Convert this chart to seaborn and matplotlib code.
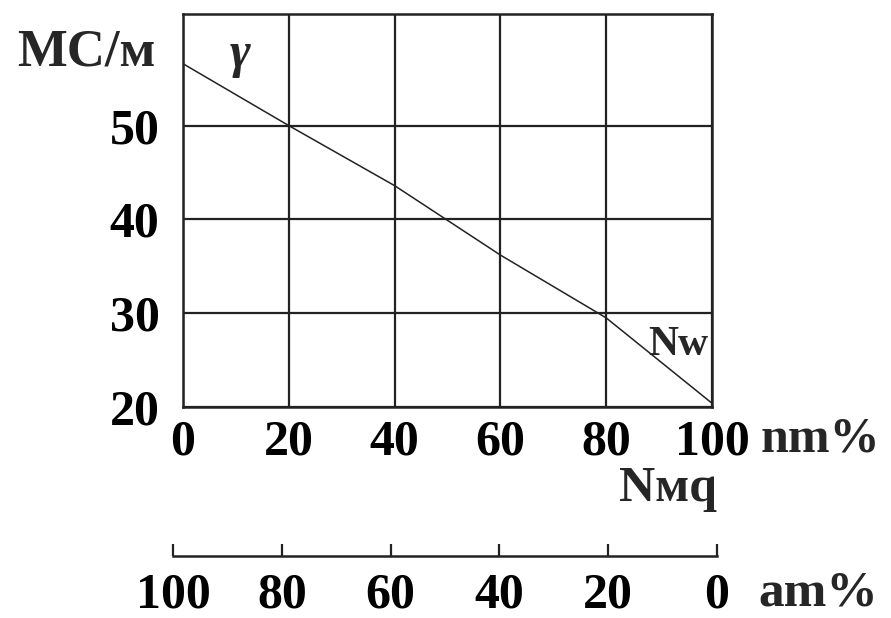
import matplotlib
matplotlib.use("Agg")
import matplotlib.pyplot as plt
import seaborn as sns
import pandas as pd

# data
nm_pct = [0, 20, 40, 60, 80, 100]
ms_per_m = [56.6, 50.0, 43.6, 36.2, 29.5, 20.4]
x_ticks = [0, 20, 40, 60, 80, 100]
y_ticks = [20, 30, 40, 50]
am_ticks = [100, 80, 60, 40, 20, 0]

sns.set_theme(style="white")
plt.rcParams['font.family'] = ['Liberation Serif', 'DejaVu Serif']
plt.rcParams['font.weight'] = 'bold'

FS = 36
fig = plt.figure(figsize=(8.91, 6.18), dpi=100)
W, H = 891, 618
ax = fig.add_axes([183 / W, 1 - 407 / H, (712 - 183) / W, (407 - 14) / H])

df = pd.DataFrame({"x": nm_pct, "y": ms_per_m})
sns.lineplot(data=df, x="x", y="y", ax=ax, color="#222222", linewidth=1.1)

ax.set_xlim(0, 100)
ax.set_ylim(20, 61.9)
ax.set_xticks(x_ticks)
ax.set_yticks(y_ticks)
ax.set_xticklabels([str(v) for v in x_ticks], fontsize=FS, fontweight='bold')
ax.set_yticklabels([str(v) for v in y_ticks], fontsize=FS, fontweight='bold')
ax.grid(True, color="#222222", linewidth=1.6)
ax.tick_params(axis='both', length=0, colors='black')
ax.tick_params(axis='x', pad=9)
ax.tick_params(axis='y', pad=17)
for s in ax.spines.values():
    s.set_color("#222222")
    s.set_linewidth(1.8)
ax.set_xlabel("")
ax.set_ylabel("")

fig.text(86 / W, 1 - 52 / H, "МС/м", fontsize=38, fontweight='bold', ha='center', va='center')
fig.text(240 / W, 1 - 55 / H, "γ", fontsize=FS, fontstyle='italic', ha='center', va='center')
fig.text(678 / W, 1 - 345 / H, "Nw", fontsize=30, fontweight='bold', ha='center', va='center')
fig.text(820 / W, 1 - 440 / H, "nm%", fontsize=36, fontweight='bold', ha='center', va='center')
fig.text(668 / W, 1 - 489 / H, "Nмq", fontsize=FS, fontweight='bold', ha='center', va='center')
fig.text(818 / W, 1 - 594 / H, "am%", fontsize=37, fontweight='bold', ha='center', va='center')

# secondary scale
ax2 = fig.add_axes([173 / W, 1 - 556 / H, (717 - 173) / W, 0.001])
ax2.set_xlim(100, 0)
ax2.set_ylim(0, 1)
ax2.set_yticks([])
ax2.set_xticks(am_ticks)
ax2.set_xticklabels([str(v) for v in am_ticks], fontsize=FS, fontweight='bold')
ax2.tick_params(axis='x', bottom=True, direction='in', length=9, width=1.6,
                pad=12, colors='black', color='#222222')
for k in ['top', 'left', 'right']:
    ax2.spines[k].set_visible(False)
ax2.spines['bottom'].set_color("#222222")
ax2.spines['bottom'].set_linewidth(1.8)
ax2.patch.set_alpha(0)
ax2.grid(False)

fig.savefig("out.png", dpi=100)
